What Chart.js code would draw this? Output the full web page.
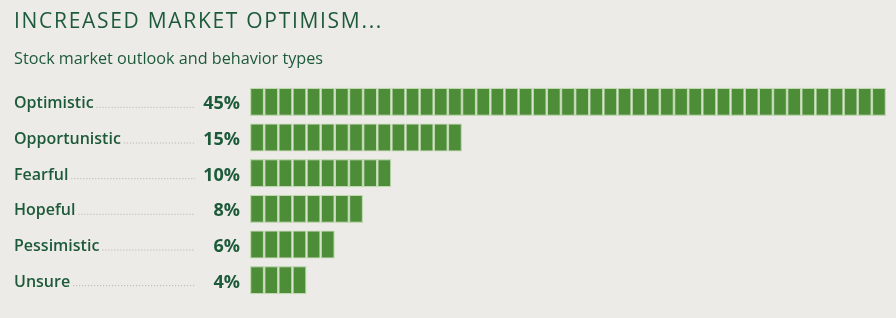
<!DOCTYPE html>
<html lang="en">
<head>
  <meta charset="UTF-8">
  <title>Increased market optimism</title>
  <script src="https://cdn.jsdelivr.net/npm/chart.js"></script>
  <style>
    html, body { margin: 0; padding: 0; background: #edebe7; }
    #wrap { position: relative; width: 896px; height: 318px; overflow: hidden; }
    #chart { position: absolute; left: 0; top: 0; }
    h1, h2 { position: absolute; left: 14px; margin: 0; font-family: "Open Sans", sans-serif; font-weight: 400; color: #1d5a3a; white-space: nowrap; }
    h1 { top: 6px; font-size: 21px; letter-spacing: 1.7px; }
    h2 { top: 47px; font-size: 16.2px; }
  </style>
</head>
<body>
  <div id="wrap">
    <canvas id="chart" width="896" height="318"></canvas>
    <h1>INCREASED MARKET OPTIMISM...</h1>
    <h2>Stock market outlook and behavior types</h2>
  </div>

  <script>
    const categories = ['Optimistic', 'Opportunistic', 'Fearful', 'Hopeful', 'Pessimistic', 'Unsure'];
    const shares = [45, 15, 10, 8, 6, 4];
    const maxShare = 45;

    const textColor = '#1d5a3a';

    // one stacked dataset per 1% block, so each bar is a row of little boxes
    const blocks = Array.from({length: maxShare}, (_, i) => ({
      data: shares.map(v => (i < v ? 1 : null)),
      backgroundColor: '#4d8d38',
      borderColor: '#c0d8b0',
      borderWidth: 1.2,
      borderSkipped: false,
      inflateAmount: 0,
      barPercentage: 0.79,
      categoryPercentage: 1
    }));

    // dotted leaders and percentages between label and bar
    const leaders = {
      id: 'leaders',
      afterDraw(chart) {
        const ctx = chart.ctx;
        const y = chart.scales.y;
        ctx.save();
        categories.forEach((name, i) => {
          const yc = y.getPixelForValue(i);
          ctx.font = '600 16px "Open Sans"';
          const w = ctx.measureText(name).width;
          ctx.strokeStyle = '#aeb0a2';
          ctx.lineWidth = 1;
          ctx.setLineDash([1, 2]);
          ctx.beginPath();
          ctx.moveTo(14 + w + 3, yc + 5.5);
          ctx.lineTo(195, yc + 5.5);
          ctx.stroke();
          ctx.setLineDash([]);
          ctx.font = 'bold 18px "Open Sans"';
          ctx.fillStyle = textColor;
          ctx.textAlign = 'right';
          ctx.textBaseline = 'middle';
          ctx.fillText(shares[i] + '%', 240, yc + 2.5);
        });
        ctx.restore();
      }
    };

    new Chart(document.getElementById('chart').getContext('2d'), {
      type: 'bar',
      data: { labels: categories, datasets: blocks },
      options: {
        indexAxis: 'y',
        responsive: false,
        animation: false,
        layout: { padding: { left: 14, right: 10, top: 84, bottom: 20 } },
        scales: {
          x: {
            stacked: true,
            min: 0,
            max: maxShare,
            display: false
          },
          y: {
            stacked: true,
            grid: { display: false },
            border: { display: false },
            afterFit: (axis) => { axis.width = 236; },
            ticks: {
              crossAlign: 'far',
              color: textColor,
              labelOffset: 2,
              font: { family: 'Open Sans', size: 16, weight: '600' },
              padding: 0
            }
          }
        },
        plugins: {
          legend: { display: false },
          tooltip: { enabled: false }
        }
      },
      plugins: [leaders]
    });
  </script>
</body>
</html>
